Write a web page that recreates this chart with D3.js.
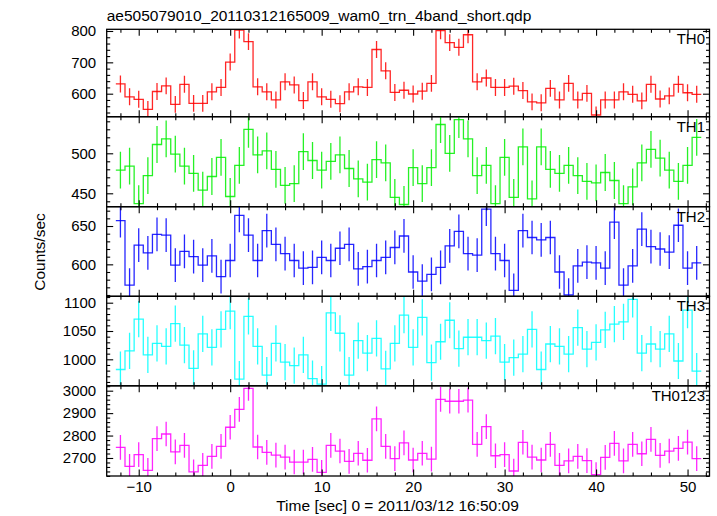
<!DOCTYPE html>
<html>
<head>
<meta charset="utf-8">
<script src="https://cdn.jsdelivr.net/npm/d3@7"></script>
<style>
  html, body { margin: 0; padding: 0; background: #fff; }
  svg { display: block; }
  text { font-family: "Liberation Sans", Arial, Helvetica, sans-serif; fill: #000; }
</style>
</head>
<body>
<svg id="chart" width="717" height="516"></svg>
<script>
// ---------------- DATA ----------------
const titleText = "ae505079010_20110312165009_wam0_trn_4band_short.qdp";
const xLabelText = "Time [sec] 0 = 2011/03/12 16:50:09";
const yLabelText = "Counts/sec";

// bin centres (s), bin width 1 s
const times = [-12,-11,-10,-9,-8,-7,-6,-5,-4,-3,-2,-1,0,1,2,3,4,5,6,7,8,9,10,11,12,13,14,15,16,17,18,19,
  20,21,22,23,24,25,26,27,28,29,30,31,32,33,34,35,36,37,38,39,40,41,42,43,44,45,46,47,48,49,50,51];
const binWidth = 1;

const th0 = [631,590,582,550,607,625,566,630,569,569,606,620,701,803,766,622,606,580,638,628,578,638,590,582,568,606,622,620,741,673,
  604,611,599,608,633,801,763,748,788,638,650,620,620,624,610,574,571,617,580,633,580,601,532,580,580,606,598,577,630,583,593,630,603,598];
const th1 = [479,484,437,472,511,518,499,484,475,454,471,495,446,485,530,498,503,480,460,462,502,491,479,490,498,481,468,464,492,488,
  445,436,482,462,482,536,500,542,518,472,485,437,495,445,508,443,508,480,475,485,472,465,463,476,466,437,458,488,505,494,479,465,485,520];
const th2 = [657,573,625,615,639,638,599,617,610,599,611,584,605,664,638,605,644,626,614,605,595,596,609,605,621,626,594,597,605,609,
  622,637,590,578,587,596,624,643,614,612,672,614,605,566,644,635,632,635,590,560,598,603,602,595,655,573,598,646,623,620,616,651,595,602];
const th3 = [982,1015,1071,1008,1028,1023,1063,1025,984,1045,1021,1053,1085,965,1076,1023,972,1028,995,989,1008,966,956,1082,1046,972,1033,1011,1037,983,
  1028,1078,1021,1074,994,1031,1069,1019,1039,1039,1033,1041,995,1003,1009,1053,982,1027,1023,1009,1056,1018,1030,1052,1062,1066,1106,1011,1027,1018,1045,997,1087,979];
const th0123 = [2747,2663,2715,2645,2786,2807,2727,2756,2638,2667,2707,2752,2837,2917,3010,2749,2725,2713,2704,2682,2682,2694,2636,2756,2731,2685,2721,2690,2874,2752,
  2697,2767,2691,2721,2695,2961,2953,2953,2958,2761,2840,2710,2715,2642,2770,2704,2691,2761,2667,2687,2707,2688,2626,2703,2765,2687,2761,2719,2783,2712,2731,2743,2771,2697];

// typical 1-sigma error per band (counts/sec)
const seriesNames = ["TH0", "TH1", "TH2", "TH3", "TH0123"];
const seriesErrors = [27, 23, 22, 32, 55];
const seriesColors = ["#ff0000", "#00ee00", "#0000ff", "#00ffff", "#ff00ff"];

// axis ranges and ticks
const xDomain = [-13.5, 52.4];
const xMajorTicks = [-10, 0, 10, 20, 30, 40, 50];
const yDomains = [[526.6, 805.4], [433.25, 545.75], [558.3, 675.2], [953.2, 1111.3], [2619.7, 3021.8]];
const yMajorTicks = [[600, 700, 800], [450, 500], [600, 650], [1000, 1050, 1100], [2700, 2800, 2900, 3000]];
const yMinorSteps = [20, 10, 10, 10, 20];

const seriesValues = [th0, th1, th2, th3, th0123];

// ---------------- LAYOUT ----------------
const svg = d3.select("#chart");
const left = 106.7, right = 709.5;
const panelEdges = [29.3, 116.7, 206.7, 296.3, 385.8, 476];
const majorLen = 6.5, minorLen = 3.5;

const x = d3.scaleLinear().domain(xDomain).range([left, right]);
const xMinorTicks = d3.range(Math.ceil(xDomain[0] / 2) * 2, xDomain[1], 2).filter(v => v % 10 !== 0);

const defs = svg.append("defs");

seriesNames.forEach((name, i) => {
  const top = panelEdges[i], bottom = panelEdges[i + 1];
  const y = d3.scaleLinear().domain(yDomains[i]).range([bottom, top]);
  const g = svg.append("g");

  defs.append("clipPath").attr("id", "clip" + i)
    .append("rect").attr("x", left).attr("y", top).attr("width", right - left).attr("height", bottom - top);

  const vals = seriesValues[i];
  const err = seriesErrors[i];
  const col = seriesColors[i];
  const data = times.map((t, k) => ({ t, v: vals[k] }));

  const plot = g.append("g").attr("clip-path", `url(#clip${i})`);

  // step histogram
  const pts = data.map(d => [d.t - binWidth / 2, d.v]);
  pts.push([data[data.length - 1].t + binWidth / 2, data[data.length - 1].v]);
  const line = d3.line().x(p => x(p[0])).y(p => y(p[1])).curve(d3.curveStepAfter);
  plot.append("path").attr("d", line(pts))
    .attr("fill", "none").attr("stroke", col).attr("stroke-width", 1.3).attr("stroke-opacity", 0.85);

  // error bars
  plot.selectAll("line.err").data(data).join("line")
    .attr("class", "err")
    .attr("x1", d => x(d.t)).attr("x2", d => x(d.t))
    .attr("y1", d => y(d.v - err)).attr("y2", d => y(d.v + err))
    .attr("stroke", col).attr("stroke-width", 1.3).attr("stroke-opacity", 0.85);

  // axes with inward ticks
  const yMinor = d3.range(Math.ceil(yDomains[i][0] / yMinorSteps[i]) * yMinorSteps[i], yDomains[i][1], yMinorSteps[i])
    .filter(v => !yMajorTicks[i].includes(v));

  const addAxis = (axisGen, transform) => {
    const a = g.append("g").attr("transform", transform).call(axisGen);
    a.select(".domain").remove();
    a.selectAll(".tick line").attr("stroke", "#000").attr("stroke-width", 1.1);
    return a;
  };

  // bottom
  addAxis(d3.axisBottom(x).tickValues(xMajorTicks).tickSize(-majorLen).tickFormat(i === 4 ? (d => d < 0 ? "\u2212" + Math.abs(d) : d) : "").tickPadding(5.5), `translate(0,${bottom})`)
    .selectAll("text").attr("font-size", "15px").attr("font-family", '"Liberation Sans", Arial, sans-serif');
  addAxis(d3.axisBottom(x).tickValues(xMinorTicks).tickSize(-minorLen).tickFormat(""), `translate(0,${bottom})`);
  // top
  addAxis(d3.axisTop(x).tickValues(xMajorTicks).tickSize(-majorLen).tickFormat(""), `translate(0,${top})`);
  addAxis(d3.axisTop(x).tickValues(xMinorTicks).tickSize(-minorLen).tickFormat(""), `translate(0,${top})`);
  // left
  addAxis(d3.axisLeft(y).tickValues(yMajorTicks[i]).tickSize(-majorLen).tickFormat(d3.format("d")).tickPadding(10.5), `translate(${left},0)`)
    .selectAll("text").attr("font-size", "15px").attr("font-family", '"Liberation Sans", Arial, sans-serif');
  addAxis(d3.axisLeft(y).tickValues(yMinor).tickSize(-minorLen).tickFormat(""), `translate(${left},0)`);
  // right
  addAxis(d3.axisRight(y).tickValues(yMajorTicks[i]).tickSize(-majorLen).tickFormat(""), `translate(${right},0)`);
  addAxis(d3.axisRight(y).tickValues(yMinor).tickSize(-minorLen).tickFormat(""), `translate(${right},0)`);

  // frame
  g.append("rect").attr("x", left).attr("y", top).attr("width", right - left).attr("height", bottom - top)
    .attr("fill", "none").attr("stroke", "#000").attr("stroke-width", 1.3);

  // panel label
  g.append("text").attr("x", 705).attr("y", top + 15)
    .attr("text-anchor", "end").attr("font-size", "15px").text(name);
});

// title
svg.append("text").attr("x", 106.7).attr("y", 20.7).attr("font-size", "15.5px").text(titleText);
// x label
svg.append("text").attr("x", 397.5).attr("y", 511).attr("text-anchor", "middle").attr("font-size", "15.5px").text(xLabelText);
// y label
svg.append("text").attr("transform", "translate(45,252) rotate(-90)").attr("text-anchor", "middle")
  .attr("font-size", "15.5px").text(yLabelText);
</script>
</body>
</html>
